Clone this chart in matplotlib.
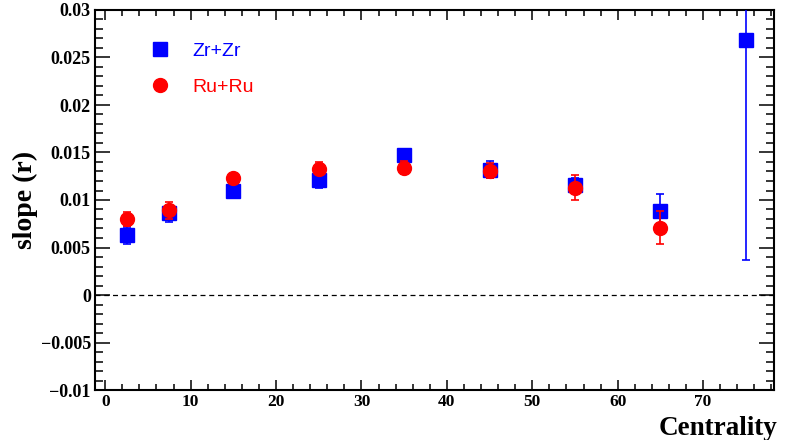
import matplotlib
matplotlib.use("Agg")
import matplotlib.pyplot as plt
from matplotlib.ticker import MultipleLocator

# ---- data ----
centrality_zr = [2.5, 7.5, 15, 25, 35, 45, 55, 65, 75]
slope_zr = [0.0063, 0.0086, 0.0109, 0.0121, 0.0147, 0.0132, 0.0116, 0.0088, 0.0268]
err_zr = [0.0009, 0.0009, 0.0004, 0.0008, 0.0007, 0.0009, 0.0007, 0.0018, 0.0231]

centrality_ru = [2.5, 7.5, 15, 25, 35, 45, 55, 65]
slope_ru = [0.0080, 0.0089, 0.0123, 0.0133, 0.0134, 0.0131, 0.0113, 0.0071]
err_ru = [0.0007, 0.0009, 0.0004, 0.0007, 0.0007, 0.0008, 0.0013, 0.0017]

x_ticks = [0, 10, 20, 30, 40, 50, 60, 70]
y_ticks = [-0.01, -0.005, 0, 0.005, 0.01, 0.015, 0.02, 0.025, 0.03]
y_tick_labels = ["\u22120.01", "\u22120.005", "0", "0.005", "0.01", "0.015", "0.02", "0.025", "0.03"]

BLUE = "#0000ff"
RED = "#ff0000"

fig = plt.figure(figsize=(7.86, 4.40), dpi=100)
ax = fig.add_axes([95 / 786, 50 / 440, (774 - 95) / 786, 380 / 440])

ax.axhline(0, color="black", lw=0.9, ls=(0, (4, 3)), zorder=1)

zr = ax.errorbar(centrality_zr, slope_zr, yerr=err_zr, fmt="s", color=BLUE, ecolor=BLUE,
                 ms=9.5, elinewidth=1.2, capsize=3, capthick=1.2, label="Zr+Zr", zorder=3)
ru = ax.errorbar(centrality_ru, slope_ru, yerr=err_ru, fmt="o", color=RED, ecolor=RED,
                 ms=10, elinewidth=1.2, capsize=3, capthick=1.2, label="Ru+Ru", zorder=4)

ax.set_xlim(-1.2, 78.3)
ax.set_ylim(-0.01, 0.03)

serif = ["Liberation Serif", "DejaVu Serif"]
ax.set_xticks(x_ticks)
ax.set_xticklabels([str(v) for v in x_ticks], fontfamily=serif, fontweight="bold", fontsize=12.5)
ax.set_yticks(y_ticks)
ax.set_yticklabels(y_tick_labels, fontfamily=serif, fontweight="bold", fontsize=13)
ax.xaxis.set_minor_locator(MultipleLocator(2))
ax.yaxis.set_minor_locator(MultipleLocator(0.001))

ax.tick_params(axis="both", which="both", direction="in", top=True, right=True, width=1.1, color="black")
ax.tick_params(axis="x", which="major", length=7.5, pad=3)
ax.tick_params(axis="x", which="minor", length=4.3)
ax.tick_params(axis="y", which="major", length=11, pad=3)
ax.tick_params(axis="y", which="minor", length=6)

for sp in ax.spines.values():
    sp.set_linewidth(1.5)

ax.set_ylabel("slope (r)", fontfamily=serif, fontweight="bold", fontsize=20, labelpad=2)
ax.set_xlabel("Centrality", fontfamily=serif, fontweight="bold", fontsize=19.5)
ax.xaxis.label.set_horizontalalignment("right")
ax.xaxis.label.set_verticalalignment("baseline")
ax.xaxis.set_label_coords(1.005, -0.118)

leg = ax.legend(handles=[zr[0], ru[0]], labels=["Zr+Zr", "Ru+Ru"],
                loc="upper left", bbox_to_anchor=(0.055, 0.962), frameon=False,
                prop={"family": ["Liberation Sans", "DejaVu Sans"], "size": 14},
                handlelength=1.0, handletextpad=1.2, labelspacing=0.95, numpoints=1)
for txt, col in zip(leg.get_texts(), [BLUE, RED]):
    txt.set_color(col)

fig.savefig("out.png", dpi=100)
